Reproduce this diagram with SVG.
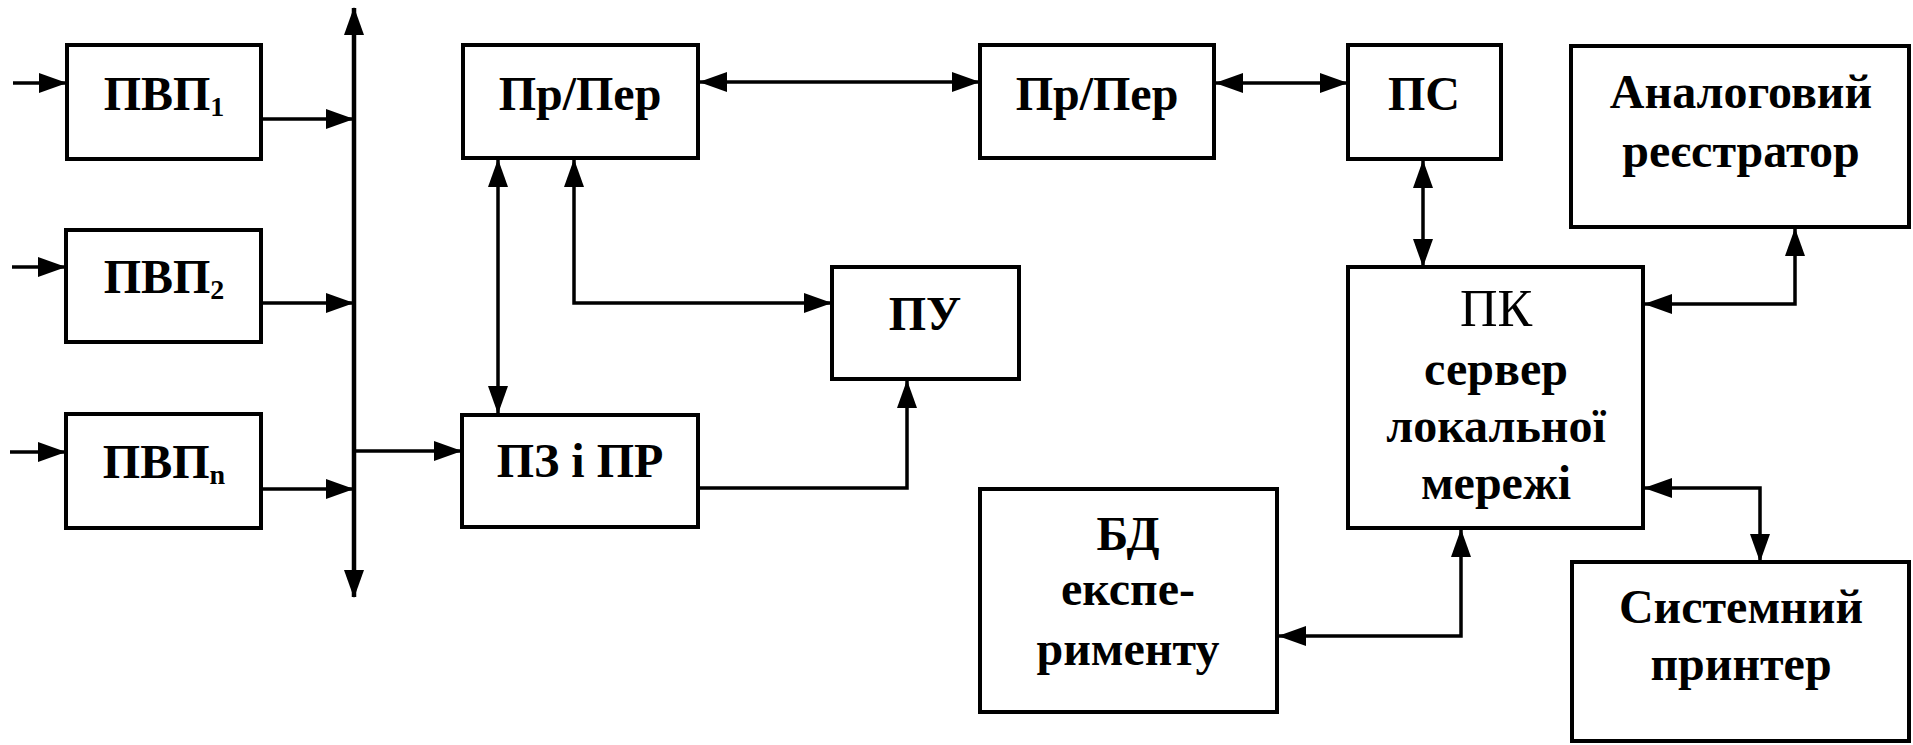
<svg xmlns="http://www.w3.org/2000/svg" width="1913" height="745" viewBox="0 0 1913 745">
<style>
  .box { fill: #ffffff; stroke: #000000; stroke-width: 4; }
  .lbl { font-family: "Liberation Serif", "Times New Roman", "DejaVu Serif", serif; font-weight: bold; font-size: 48px; text-anchor: middle; fill: #000000; }
  .reg { font-weight: normal; font-size: 52px; }
  .sub { font-size: 28px; }
  .conn { fill: none; stroke: #000000; stroke-width: 3.5; stroke-linejoin: miter; }
  .bus { fill: none; stroke: #000000; stroke-width: 4.5; }
</style>
<defs>
  <marker id="ah" markerUnits="userSpaceOnUse" markerWidth="28" markerHeight="20" refX="27" refY="10" orient="auto-start-reverse">
    <path d="M0,0 L28,10 L0,20 Z" fill="#000000"/>
  </marker>
</defs>
<rect width="1913" height="745" fill="#ffffff"/>

<g id="connectors">
  <path class="conn" d="M13,83 H66" marker-end="url(#ah)"/>
  <path class="conn" d="M12,267 H65" marker-end="url(#ah)"/>
  <path class="conn" d="M10,452 H65" marker-end="url(#ah)"/>
  <path class="conn" d="M261,119 H353" marker-end="url(#ah)"/>
  <path class="conn" d="M261,303 H353" marker-end="url(#ah)"/>
  <path class="conn" d="M261,489 H353" marker-end="url(#ah)"/>
  <path class="bus" d="M354,8 V597" marker-start="url(#ah)" marker-end="url(#ah)"/>
  <path class="conn" d="M354,451 H461" marker-end="url(#ah)"/>
  <path class="conn" d="M498,160 V413" marker-start="url(#ah)" marker-end="url(#ah)"/>
  <path class="conn" d="M574,160 V303 H831" marker-start="url(#ah)" marker-end="url(#ah)"/>
  <path class="conn" d="M698,488 H907 V381" marker-end="url(#ah)"/>
  <path class="conn" d="M700,82 H979" marker-start="url(#ah)" marker-end="url(#ah)"/>
  <path class="conn" d="M1216,83 H1347" marker-start="url(#ah)" marker-end="url(#ah)"/>
  <path class="conn" d="M1423,161 V266" marker-start="url(#ah)" marker-end="url(#ah)"/>
  <path class="conn" d="M1645,304 H1795 V229" marker-start="url(#ah)" marker-end="url(#ah)"/>
  <path class="conn" d="M1645,488 H1760 V561" marker-start="url(#ah)" marker-end="url(#ah)"/>
  <path class="conn" d="M1279,636 H1461 V530" marker-start="url(#ah)" marker-end="url(#ah)"/>
</g>

<g id="pvp1">
  <rect class="box" x="67" y="45" width="194" height="114"/>
  <text class="lbl" x="164" y="110">ПВП<tspan class="sub" dy="6">1</tspan></text>
</g>
<g id="pvp2">
  <rect class="box" x="66" y="230" width="195" height="112"/>
  <text class="lbl" x="164" y="293">ПВП<tspan class="sub" dy="6">2</tspan></text>
</g>
<g id="pvpn">
  <rect class="box" x="66" y="414" width="195" height="114"/>
  <text class="lbl" x="164" y="478">ПВП<tspan class="sub" dy="6">n</tspan></text>
</g>
<g id="prper1">
  <rect class="box" x="463" y="45" width="235" height="113"/>
  <text class="lbl" x="580" y="110">Пр/Пер</text>
</g>
<g id="prper2">
  <rect class="box" x="980" y="45" width="234" height="113"/>
  <text class="lbl" x="1097" y="110">Пр/Пер</text>
</g>
<g id="ps">
  <rect class="box" x="1348" y="45" width="153" height="114"/>
  <text class="lbl" x="1424" y="110">ПС</text>
</g>
<g id="analog">
  <rect class="box" x="1571" y="46" width="338" height="181"/>
  <text class="lbl" x="1741" y="108">Аналоговий</text>
  <text class="lbl" x="1741" y="167">реєстратор</text>
</g>
<g id="pu">
  <rect class="box" x="832" y="267" width="187" height="112"/>
  <text class="lbl" x="925" y="330">ПУ</text>
</g>
<g id="pzpr">
  <rect class="box" x="462" y="415" width="236" height="112"/>
  <text class="lbl" x="580" y="477">ПЗ і ПР</text>
</g>
<g id="pk">
  <rect class="box" x="1348" y="267" width="295" height="261"/>
  <text class="lbl reg" x="1496" y="326">ПК</text>
  <text class="lbl" x="1496" y="385">сервер</text>
  <text class="lbl" x="1496" y="442">локальної</text>
  <text class="lbl" x="1496" y="499">мережі</text>
</g>
<g id="bd">
  <rect class="box" x="980" y="489" width="297" height="223"/>
  <text class="lbl" x="1128" y="550">БД</text>
  <text class="lbl" x="1128" y="605">експе-</text>
  <text class="lbl" x="1128" y="665">рименту</text>
</g>
<g id="printer">
  <rect class="box" x="1572" y="562" width="337" height="179"/>
  <text class="lbl" x="1741" y="623">Системний</text>
  <text class="lbl" x="1741" y="680">принтер</text>
</g>
</svg>
